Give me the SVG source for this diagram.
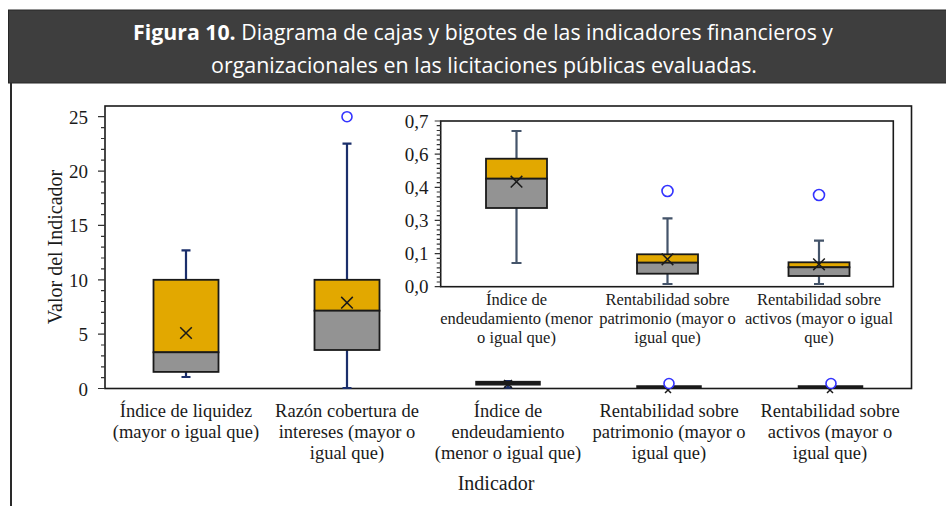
<svg xmlns="http://www.w3.org/2000/svg" width="946" height="506" viewBox="0 0 946 506">
<defs>
<style>
.hdr{font-family:"Open Sans","Noto Sans",sans-serif;font-size:21px;fill:#ffffff}
.tk{font-family:"Liberation Serif","Times New Roman",serif;font-size:19px;fill:#1a1a1a}
.tki{font-family:"Liberation Serif","Times New Roman",serif;font-size:19px;fill:#1a1a1a;text-anchor:end}
.lb{font-family:"Liberation Serif","Times New Roman",serif;font-size:18.5px;fill:#1a1a1a;text-anchor:middle}
.lbi{font-family:"Liberation Serif","Times New Roman",serif;font-size:16.5px;fill:#1a1a1a;text-anchor:middle}
.ttl{font-family:"Liberation Serif","Times New Roman",serif;font-size:20px;fill:#1a1a1a;text-anchor:middle}
.frame{fill:none;stroke:#1a1a1a;stroke-width:1.6}
.tick{stroke:#333;stroke-width:1.2}
.q3{fill:#E2A800;stroke:#1a1a1a;stroke-width:1.8}
.q1{fill:#939393;stroke:#1a1a1a;stroke-width:1.8}
.wm{stroke:#1b2f6b;stroke-width:2.2;fill:none}
.wi{stroke:#44546a;stroke-width:2.2;fill:none}
.mean{stroke:#1a1a1a;stroke-width:1.5;fill:none}
.out{fill:#ffffff;stroke:#3333ff;stroke-width:1.6}
.bar{fill:#1a1a1a;stroke:#1a1a1a;stroke-width:1.5}
</style>
</defs>
<rect width="946" height="506" fill="#ffffff"/>
<!-- header -->
<g id="header">
<rect x="8.5" y="10" width="945" height="73" fill="#3e3e3e" stroke="#262626" stroke-width="1"/>
<text class="hdr" x="133" y="40" textLength="700" lengthAdjust="spacingAndGlyphs"><tspan font-weight="bold">Figura 10.</tspan> Diagrama de cajas y bigotes de las indicadores financieros y</text>
<text class="hdr" x="211" y="73" textLength="546" lengthAdjust="spacingAndGlyphs">organizacionales en las licitaciones públicas evaluadas.</text>
</g>
<line x1="11" y1="83" x2="11" y2="506" stroke="#2a2a2a" stroke-width="2"/>

<!-- main axes -->
<g id="main-axes">
<rect class="frame" x="105" y="106" width="806.5" height="282.5"/>
<path class="tick" d="M98 388.5H105M101 377.6H105M101 366.8H105M101 355.9H105M101 345.0H105M98 334.1H105M101 323.3H105M101 312.4H105M101 301.5H105M101 290.7H105M98 279.8H105M101 268.9H105M101 258.0H105M101 247.2H105M101 236.3H105M98 225.4H105M101 214.6H105M101 203.7H105M101 192.8H105M101 181.9H105M98 171.1H105M101 160.2H105M101 149.3H105M101 138.5H105M101 127.6H105M98 116.7H105"/>
<text class="tk" x="88" y="395.5" text-anchor="end">0</text>
<text class="tk" x="88" y="341.1" text-anchor="end">5</text>
<text class="tk" x="88" y="286.8" text-anchor="end">10</text>
<text class="tk" x="88" y="232.4" text-anchor="end">15</text>
<text class="tk" x="88" y="178.1" text-anchor="end">20</text>
<text class="tk" x="88" y="123.7" text-anchor="end">25</text>
<text class="ttl" transform="translate(62,247) rotate(-90)">Valor del Indicador</text>
<text class="ttl" x="496" y="489.5">Indicador</text>
</g>

<!-- main boxes -->
<g id="box-liquidez">
<path class="wm" d="M186 250.4V279.8M181.5 250.4H190.5M186 371.9V377M181.5 377H190.5"/>
<rect class="q3" x="153.5" y="279.8" width="65" height="72.5"/>
<rect class="q1" x="153.5" y="352.3" width="65" height="19.6"/>
<path class="mean" d="M180.2 327.2L191.8 338.8M191.8 327.2L180.2 338.8"/>
<text class="lb" x="186" y="416.5">Índice de liquidez</text>
<text class="lb" x="186" y="437.5">(mayor o igual que)</text>
</g>
<g id="box-cobertura">
<path class="wm" d="M347 143.7V279.8M342.5 143.7H351.5M347 350V388M342.5 388H351.5"/>
<rect class="q3" x="314.5" y="279.8" width="65" height="30.9"/>
<rect class="q1" x="314.5" y="310.7" width="65" height="39.3"/>
<path class="mean" d="M341.2 296.9L352.8 308.5M352.8 296.9L341.2 308.5"/>
<circle class="out" cx="347" cy="116.7" r="5"/>
<text class="lb" x="347" y="416.5">Razón cobertura de</text>
<text class="lb" x="347" y="437.5">intereses (mayor o</text>
<text class="lb" x="347" y="458.5">igual que)</text>
</g>
<g id="box-endeudamiento">
<path class="wm" d="M508 381.2V387.7M504 381.2H512M504 387.7H512"/>
<rect class="bar" x="476" y="381.6" width="64" height="3.2"/>
<path class="mean" d="M504 380L512 388M512 380L504 388" stroke="#1b2f6b"/>
<text class="lb" x="508" y="416.5">Índice de</text>
<text class="lb" x="508" y="437.5">endeudamiento</text>
<text class="lb" x="508" y="458.5">(menor o igual que)</text>
</g>
<g id="box-patrimonio">
<rect class="bar" x="637" y="386" width="64" height="1.6"/>
<path class="mean" d="M665 387L671 393M671 387L665 393"/>
<circle class="out" cx="669" cy="383.5" r="5"/>
<text class="lb" x="669" y="416.5">Rentabilidad sobre</text>
<text class="lb" x="669" y="437.5">patrimonio (mayor o</text>
<text class="lb" x="669" y="458.5">igual que)</text>
</g>
<g id="box-activos">
<rect class="bar" x="798.5" y="386" width="64" height="1.6"/>
<path class="mean" d="M827 387L833 393M833 387L827 393"/>
<circle class="out" cx="831" cy="383.5" r="5"/>
<text class="lb" x="830" y="416.5">Rentabilidad sobre</text>
<text class="lb" x="830" y="437.5">activos (mayor o</text>
<text class="lb" x="830" y="458.5">igual que)</text>
</g>

<!-- inset -->
<g id="inset-axes">
<rect x="440.7" y="121" width="452.6" height="165.7" fill="#ffffff" stroke="#1a1a1a" stroke-width="1.6"/>
<path class="tick" d="M434.7 121H440.7M436.7 125.7H440.7M436.7 130.5H440.7M436.7 135.2H440.7M436.7 139.9H440.7M436.7 144.7H440.7M436.7 149.4H440.7M434.7 154.1H440.7M436.7 158.9H440.7M436.7 163.6H440.7M436.7 168.4H440.7M436.7 173.1H440.7M436.7 177.8H440.7M436.7 182.6H440.7M434.7 187.3H440.7M436.7 192.0H440.7M436.7 196.8H440.7M436.7 201.5H440.7M436.7 206.2H440.7M436.7 211.0H440.7M436.7 215.7H440.7M434.7 220.4H440.7M436.7 225.2H440.7M436.7 229.9H440.7M436.7 234.6H440.7M436.7 239.4H440.7M436.7 244.1H440.7M436.7 248.8H440.7M434.7 253.6H440.7M436.7 258.3H440.7M436.7 263.0H440.7M436.7 267.8H440.7M436.7 272.5H440.7M436.7 277.2H440.7M436.7 282.0H440.7M434.7 286.7H440.7"/>
<text class="tki" x="428.5" y="127.5">0,7</text>
<text class="tki" x="428.5" y="160.6">0,6</text>
<text class="tki" x="428.5" y="193.8">0,4</text>
<text class="tki" x="428.5" y="226.9">0,3</text>
<text class="tki" x="428.5" y="260.1">0,1</text>
<text class="tki" x="428.5" y="293.2">0,0</text>
</g>
<g id="inset-endeudamiento">
<path class="wi" d="M516.5 131V158.7M511.5 131H521.5M516.5 208V263M511.5 263H521.5"/>
<rect class="q3" x="486" y="158.7" width="61" height="20"/>
<rect class="q1" x="486" y="178.7" width="61" height="29.3"/>
<path class="mean" d="M510.7 175.9L522.3 187.5M522.3 175.9L510.7 187.5"/>
<text class="lbi" x="516.5" y="304.5">Índice de</text>
<text class="lbi" x="516.5" y="323.5">endeudamiento (menor</text>
<text class="lbi" x="516.5" y="342.5">o igual que)</text>
</g>
<g id="inset-patrimonio">
<path class="wi" d="M667.5 218.3V254.3M662.5 218.3H672.5M667.5 273.7V284M662.5 284H672.5"/>
<rect class="q3" x="637" y="254.3" width="61" height="8.4"/>
<rect class="q1" x="637" y="262.7" width="61" height="11"/>
<path class="mean" d="M661.7 253.5L673.3 265.1M673.3 253.5L661.7 265.1"/>
<circle class="out" cx="667.5" cy="191" r="5.5"/>
<text class="lbi" x="667.5" y="304.5">Rentabilidad sobre</text>
<text class="lbi" x="667.5" y="323.5">patrimonio (mayor o</text>
<text class="lbi" x="667.5" y="342.5">igual que)</text>
</g>
<g id="inset-activos">
<path class="wi" d="M819 240.7V262.3M814 240.7H824M819 276V284M814 284H824"/>
<rect class="q3" x="788.5" y="262.3" width="61" height="5"/>
<rect class="q1" x="788.5" y="267.3" width="61" height="8.7"/>
<path class="mean" d="M813.2 258.5L824.8 270.1M824.8 258.5L813.2 270.1"/>
<circle class="out" cx="819" cy="195" r="5.5"/>
<text class="lbi" x="819" y="304.5">Rentabilidad sobre</text>
<text class="lbi" x="819" y="323.5">activos (mayor o igual</text>
<text class="lbi" x="819" y="342.5">que)</text>
</g>
</svg>
